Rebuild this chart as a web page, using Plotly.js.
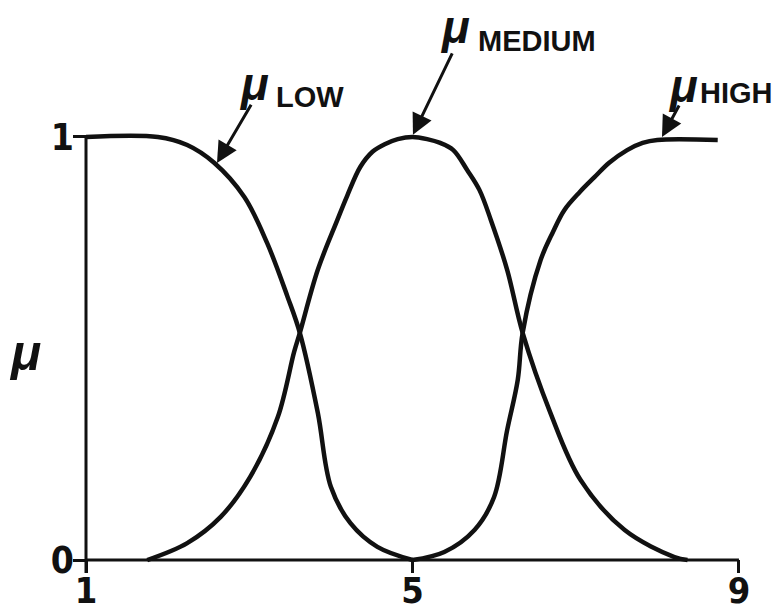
<!DOCTYPE html>
<html>
<head>
<meta charset="utf-8">
<script src="https://cdn.plot.ly/plotly-3.0.1.min.js"></script>
<style>
  html, body { margin: 0; padding: 0; background: #fff; }
  #chart { width: 784px; height: 613px; }
</style>
</head>
<body>
<div id="chart"></div>
<script>
// Membership functions over the 1..9 scale
const lowX  = [1.0, 1.88, 2.24, 2.57, 2.94, 3.22, 3.47, 3.62, 3.84, 4.0, 4.24, 4.57, 5.0];
const lowY  = [1.0, 1.0, 0.981, 0.939, 0.858, 0.749, 0.622, 0.537, 0.348, 0.173, 0.087, 0.031, 0.0];

const mediumX = [1.75, 2.24, 2.65, 3.01, 3.35, 3.55, 3.62, 3.84, 4.08, 4.20, 4.36, 4.51, 4.66, 4.82, 5.0,
                 5.18, 5.34, 5.50, 5.67, 5.82, 5.96, 6.16, 6.35, 6.69, 7.06, 7.6, 8.21, 8.37];
const mediumY = [0.0, 0.040, 0.102, 0.196, 0.338, 0.492, 0.537, 0.686, 0.804, 0.861, 0.929, 0.965, 0.983, 0.995, 1.0,
                 0.995, 0.986, 0.969, 0.922, 0.875, 0.804, 0.686, 0.537, 0.348, 0.189, 0.071, 0.007, 0.0];

const highX = [5.0, 5.39, 5.76, 6.0, 6.16, 6.29, 6.35, 6.57, 6.72, 6.86, 7.05, 7.23, 7.41, 7.63, 7.82, 8.0, 8.74];
const highY = [0.0, 0.019, 0.071, 0.149, 0.307, 0.426, 0.537, 0.709, 0.775, 0.827, 0.870, 0.905, 0.939, 0.969, 0.986, 0.993, 0.993];

const xTickVals = [1, 5, 9];
const xTickText = ['1', '5', '9'];
const yTickVals = [0, 1];
const yTickText = ['0', '1'];

const INK = '#111';
const labelFont = 'Liberation Sans, Arial, sans-serif';
const tickFont = 'Liberation Sans Narrow, DejaVu Sans Condensed, Liberation Sans, sans-serif';
const muFont = 'Liberation Sans, DejaVu Sans, sans-serif';

function curve(x, y) {
  return {
    x: x, y: y, type: 'scatter', mode: 'lines',
    line: { color: INK, width: 4.5, shape: 'spline', smoothing: 1.0 },
    hoverinfo: 'skip', showlegend: false
  };
}

const data = [curve(lowX, lowY), curve(mediumX, mediumY), curve(highX, highY)];

const muText = '<i>μ</i>';
function mu(x, y) {
  return { x: x, y: y, xref: 'x', yref: 'paper', text: muText, showarrow: false,
           xanchor: 'center', yanchor: 'middle',
           font: { family: muFont, size: 46, color: INK, weight: 'bold' } };
}
function word(x, y, t) {
  return { x: x, y: y, xref: 'x', yref: 'paper', text: t, showarrow: false,
           xanchor: 'left', yanchor: 'middle',
           font: { family: labelFont, size: 29, color: INK, weight: 'bold' } };
}
function pointer(x, y, ax, ay) {
  return { x: x, y: y, ax: ax, ay: ay, xref: 'x', yref: 'y', axref: 'x', ayref: 'y',
           text: '', showarrow: true, arrowhead: 2, arrowsize: 1.4, arrowwidth: 3,
           arrowcolor: INK };
}

const layout = {
  width: 784, height: 613,
  margin: { l: 73, r: 32, t: 124, b: 40 },
  paper_bgcolor: '#fff', plot_bgcolor: '#fff',
  showlegend: false,
  xaxis: {
    range: [0.8407, 9.16], showgrid: false, zeroline: false, showline: false,
    tickmode: 'array', tickvals: xTickVals, ticktext: xTickText,
    ticks: 'inside', ticklen: 13, tickwidth: 3, tickcolor: INK,
    ticklabelstandoff: -7,
    tickfont: { family: tickFont, size: 36, color: INK, weight: 'bold' },
    fixedrange: true
  },
  yaxis: {
    range: [-0.0307, 1.0307], showgrid: false, zeroline: false, showline: false,
    tickmode: 'array', tickvals: yTickVals, ticktext: yTickText,
    ticks: 'inside', ticklen: 13, tickwidth: 3, tickcolor: INK,
    ticklabelstandoff: -2,
    tickfont: { family: tickFont, size: 37, color: INK, weight: 'bold' },
    fixedrange: true
  },
  shapes: [
    // baseline and vertical axis
    { type: 'line', xref: 'x', yref: 'y', x0: 1, x1: 9, y0: 0, y1: 0,
      line: { color: INK, width: 3 } },
    { type: 'line', xref: 'x', yref: 'y', x0: 1, x1: 1, y0: -0.0307, y1: 1,
      line: { color: INK, width: 3 } }
  ],
  annotations: [
    // y-axis symbol
    { x: -0.07, y: 0.49, xref: 'paper', yref: 'y', text: muText, showarrow: false,
      xanchor: 'center', yanchor: 'middle',
      font: { family: muFont, size: 50, color: INK, weight: 'bold' } },
    mu(3.06, 1.089), word(3.30, 1.060, 'LOW'),
    mu(5.52, 1.216), word(5.78, 1.185, 'MEDIUM'),
    mu(8.31, 1.085), word(8.50, 1.069, 'HIGH'),
    pointer(2.605, 0.9385, 3.034, 1.080),
    pointer(5.006, 1.005, 5.496, 1.201),
    pointer(8.057, 1.0, 8.277, 1.078)
  ]
};

Plotly.newPlot('chart', data, layout, { displayModeBar: false, staticPlot: true });
</script>
</body>
</html>
